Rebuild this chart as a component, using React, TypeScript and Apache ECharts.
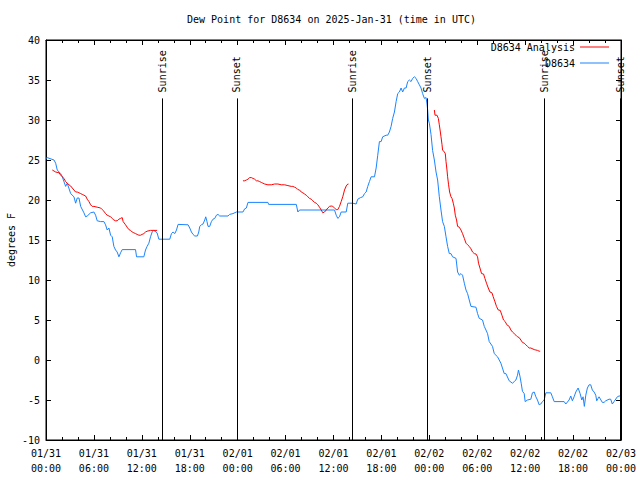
import React, { useEffect, useRef } from "react";
import * as echarts from "echarts";

const TITLE = "Dew Point for D8634 on 2025-Jan-31 (time in UTC)";
const Y_NAME = "degrees F";
const OBS_NAME = "D8634";
const ANALYSIS_NAME = "D8634 Analysis";
const FONT = "DejaVu Sans Mono";

// x axis: hours since 2025-01-31 00:00 UTC
const X_TICK_LABELS = [
  "01/31\n00:00", "01/31\n06:00", "01/31\n12:00", "01/31\n18:00",
  "02/01\n00:00", "02/01\n06:00", "02/01\n12:00", "02/01\n18:00",
  "02/02\n00:00", "02/02\n06:00", "02/02\n12:00", "02/02\n18:00",
  "02/03\n00:00",
];

const SUN_EVENT_HOURS = [14.55, 23.9, 38.4, 47.8, 62.45, 71.9];
const SUN_EVENT_NAMES = ["Sunrise", "Sunset", "Sunrise", "Sunset", "Sunrise", "Sunset"];
const SUN_LINE_TOP = 32.7;

// observed dew point [hour, degF]
const OBS: [number, number][] = [
  [0, 25.2], [0.16, 25.3], [1.0, 25.0], [1.21, 24.6], [1.41, 23.75], [1.84, 23.3], [2.04, 22.9],
  [2.46, 21.7], [2.66, 22.1], [3.09, 20.8], [3.5, 20.4], [3.71, 19.6], [3.91, 20.25], [4.13, 20.25],
  [4.34, 19.2], [4.75, 18.4], [4.96, 17.9], [5.16, 18.0], [5.59, 18.4], [6.0, 18.5], [6.21, 18.1],
  [6.41, 17.4], [6.84, 17.3], [7.25, 17.3], [7.46, 16.9], [7.66, 16.25], [7.88, 16.5], [8.09, 15.6],
  [8.29, 15.4], [8.5, 14.2], [8.71, 13.75], [8.91, 13.5], [9.13, 12.9], [9.34, 13.4], [9.54, 13.8],
  [11.21, 13.8], [11.34, 12.9], [12.25, 12.9], [12.46, 13.75], [12.66, 14.2], [12.88, 14.6],
  [13.09, 15.4], [13.29, 16.0], [13.5, 16.2], [13.91, 15.9], [14.13, 15.1], [15.5, 15.1],
  [15.71, 15.8], [15.91, 16.0], [16.13, 15.8], [16.34, 16.25], [16.54, 16.95], [17.79, 16.9],
  [18.0, 16.5], [18.21, 16.0], [18.41, 15.7], [18.63, 15.5], [18.96, 15.5], [19.13, 16.0],
  [19.25, 16.7], [19.46, 16.9], [19.66, 17.0], [19.88, 17.5], [20.0, 17.9], [20.16, 17.3],
  [20.29, 16.7], [20.5, 16.7], [20.71, 17.3], [20.91, 17.6], [21.13, 17.7], [21.34, 18.1],
  [21.54, 18.2], [21.75, 18.0], [22.79, 18.0], [23.0, 18.2], [23.41, 18.3], [23.84, 18.5],
  [24.66, 18.5], [24.88, 18.9], [25.09, 19.0], [25.29, 19.7], [27.79, 19.7], [27.88, 19.45],
  [31.34, 19.45], [31.54, 18.5], [31.75, 18.75], [36.13, 18.75], [36.34, 18.1], [36.54, 17.7],
  [36.75, 17.9], [36.96, 18.5], [37.59, 18.5], [37.79, 19.6], [38.41, 19.6], [38.84, 19.5],
  [39.04, 20.1], [39.38, 20.3], [39.66, 20.4], [39.88, 20.8], [40.09, 21.0], [40.29, 21.7],
  [40.5, 22.3], [40.71, 22.9], [41.13, 22.9], [41.34, 24.0], [41.54, 25.6], [41.75, 27.3],
  [41.96, 27.3], [42.16, 27.9], [42.59, 28.1], [42.79, 28.1], [43.0, 28.5], [43.21, 29.2],
  [43.41, 30.2], [43.63, 31.0], [43.84, 32.3], [44.04, 33.3], [44.25, 33.5], [44.46, 34.0],
  [44.66, 33.5], [44.88, 34.0], [45.09, 34.0], [45.29, 34.8], [45.5, 35.0], [45.71, 34.8],
  [45.91, 35.2], [46.13, 35.4], [46.34, 35.2], [46.54, 34.8], [46.75, 34.4], [46.96, 34.0],
  [47.16, 33.3], [47.38, 32.7], [47.59, 32.8], [47.71, 32.0], [47.79, 31.25], [47.88, 30.0],
  [48.0, 29.6], [48.21, 28.2], [48.41, 26.2], [48.63, 25.0], [48.84, 23.5], [49.04, 22.5],
  [49.25, 20.4], [49.46, 18.75], [49.66, 17.3], [49.88, 16.7], [50.09, 15.4], [50.29, 14.2],
  [50.5, 13.3], [50.71, 13.3], [50.91, 12.9], [51.34, 12.7], [51.54, 11.0], [51.75, 10.6],
  [51.96, 10.8], [52.16, 10.6], [52.38, 9.6], [52.59, 8.75], [52.79, 8.3], [53.0, 7.5],
  [53.21, 6.7], [53.84, 6.6], [54.04, 5.8], [54.25, 5.2], [54.66, 5.0], [54.88, 4.2],
  [55.09, 3.75], [55.29, 3.3], [55.5, 2.3], [55.91, 1.7], [56.13, 0.8], [56.54, 0.4],
  [56.96, -0.4], [57.38, -1.7], [57.59, -1.7], [58.0, -2.6], [58.41, -2.9], [58.63, -2.7],
  [58.84, -2.5], [59.04, -1.9], [59.16, -1.25], [59.34, -2.0], [59.5, -2.9], [59.66, -3.9],
  [59.88, -4.2], [60.0, -5.2], [60.29, -5.0], [60.71, -4.9], [60.91, -4.1], [61.13, -4.0],
  [61.34, -4.6], [61.54, -5.0], [61.75, -5.6], [61.96, -5.5], [62.16, -5.2], [62.38, -5.0],
  [62.59, -4.1], [63.21, -4.1], [63.41, -4.6], [63.63, -5.2], [64.88, -5.2], [65.09, -5.5],
  [65.5, -5.0], [65.71, -4.5], [65.91, -5.1], [66.13, -4.6], [66.34, -4.0], [66.63, -3.5],
  [66.88, -4.2], [67.09, -5.0], [67.25, -4.6], [67.41, -5.8], [67.59, -4.4], [67.79, -3.5],
  [68.0, -3.1], [68.21, -3.1], [68.41, -3.75], [68.63, -4.0], [68.84, -4.4], [68.96, -5.1],
  [69.13, -4.8], [69.25, -4.6], [69.66, -5.3], [69.88, -5.3], [70.09, -5.1], [70.5, -4.9],
  [70.71, -4.9], [70.91, -5.5], [71.13, -5.2], [71.54, -4.6], [71.75, -4.5], [72.0, -4.5],
];

// analysis dew point, three segments [hour, degF]
const ANALYSIS_1: [number, number][] = [
  [0.79, 23.75], [1.21, 23.5], [1.63, 23.4], [1.84, 23.1], [2.04, 22.9], [2.25, 22.7],
  [2.46, 22.3], [2.66, 22.1], [2.88, 21.9], [3.09, 21.75], [3.29, 21.5], [3.5, 21.25],
  [3.71, 21.0], [3.91, 21.0], [4.13, 20.9], [4.34, 20.8], [4.54, 20.7], [4.75, 20.6],
  [4.96, 20.5], [5.16, 20.1], [5.38, 19.8], [5.59, 19.4], [5.79, 19.2], [6.0, 19.2],
  [6.41, 19.1], [6.84, 19.0], [7.04, 18.8], [7.25, 18.6], [7.46, 18.3], [7.66, 18.1],
  [7.88, 18.0], [8.09, 17.9], [8.29, 17.7], [8.5, 17.5], [8.71, 17.4], [8.91, 17.4],
  [9.13, 17.6], [9.34, 17.7], [9.54, 17.8], [9.66, 17.3], [9.96, 16.9], [10.16, 16.6],
  [10.38, 16.3], [10.59, 16.2], [10.79, 16.0], [11.0, 15.9], [11.21, 15.8], [11.41, 15.7],
  [11.63, 15.6], [11.84, 15.6], [12.04, 15.7], [12.25, 15.8], [12.46, 16.0], [12.66, 16.1],
  [13.09, 16.2], [13.5, 16.2], [13.91, 16.2],
];
const ANALYSIS_2: [number, number][] = [
  [24.66, 22.4], [24.88, 22.4], [25.09, 22.5], [25.29, 22.6], [25.5, 22.8], [25.71, 22.8],
  [25.91, 22.7], [26.13, 22.6], [26.34, 22.4], [26.54, 22.4], [26.75, 22.3], [26.96, 22.2],
  [27.16, 22.1], [27.38, 22.0], [27.79, 21.9], [28.21, 21.9], [28.63, 22.0], [29.04, 22.0],
  [29.46, 21.9], [29.88, 21.9], [30.29, 21.8], [30.71, 21.7], [30.91, 21.7], [31.13, 21.6],
  [31.34, 21.5], [31.54, 21.3], [31.75, 21.25], [31.96, 21.0], [32.16, 20.9], [32.38, 20.75],
  [32.59, 20.6], [32.79, 20.4], [33.0, 20.2], [33.21, 20.1], [33.41, 19.9], [33.63, 19.7],
  [33.84, 19.6], [34.04, 19.4], [34.25, 19.1], [34.46, 18.75], [34.66, 18.4], [34.88, 18.5],
  [35.09, 18.75], [35.29, 19.0], [35.5, 19.2], [35.71, 19.25], [35.91, 19.2], [36.13, 19.0],
  [36.34, 18.8], [36.54, 18.8], [36.75, 19.2], [36.96, 19.8], [37.16, 20.4], [37.38, 21.25],
  [37.59, 21.75], [37.79, 22.0], [37.88, 22.0],
];
const ANALYSIS_3: [number, number][] = [
  [48.63, 31.25], [48.71, 30.6], [48.96, 30.6], [49.13, 30.2], [49.25, 29.4], [49.38, 28.5],
  [49.46, 27.9], [49.59, 26.9], [49.66, 26.25], [49.88, 26.0], [50.0, 25.8], [50.09, 24.8],
  [50.21, 23.75], [50.29, 22.9], [50.41, 21.9], [50.54, 21.0], [50.71, 20.4], [50.84, 20.2],
  [51.0, 19.6], [51.13, 19.0], [51.25, 18.1], [51.41, 17.5], [51.54, 16.7], [51.75, 16.6],
  [51.96, 16.25], [52.16, 15.8], [52.38, 15.2], [52.59, 14.6], [52.79, 14.4], [53.0, 14.2],
  [53.21, 13.9], [53.41, 13.5], [53.63, 13.3], [53.84, 13.25], [54.04, 12.9], [54.16, 12.1],
  [54.34, 11.5], [54.54, 10.8], [54.79, 10.75], [54.96, 10.2], [55.16, 9.6], [55.38, 9.0],
  [55.59, 8.5], [55.84, 8.4], [56.0, 7.9], [56.21, 7.3], [56.41, 6.7], [56.63, 6.25],
  [56.88, 6.2], [57.09, 5.6], [57.29, 5.0], [57.5, 4.8], [57.71, 4.4], [58.0, 4.2],
  [58.21, 3.75], [58.41, 3.5], [58.63, 3.3], [58.84, 3.1], [59.04, 2.9], [59.25, 2.8],
  [59.46, 2.5], [59.66, 2.2], [59.88, 2.1], [60.09, 1.9], [60.29, 1.7], [60.5, 1.5],
  [60.71, 1.5], [61.13, 1.3], [61.34, 1.25], [61.54, 1.2], [61.75, 1.1], [61.88, 1.1],
];

const OBS_COLOR = "#1a84ff";
const ANALYSIS_COLOR = "#ff0000";

export default function App() {
  const ref = useRef<HTMLDivElement>(null);

  useEffect(() => {
    if (!ref.current) return;
    const chart = echarts.init(ref.current, null, { renderer: "svg" });

    const gap = (h: number) => [h, "-"];
    const analysisData: any[] = [
      ...ANALYSIS_1,
      gap(19),
      ...ANALYSIS_2,
      gap(43),
      ...ANALYSIS_3,
    ];

    const textStyle = { fontFamily: FONT, fontSize: 10, color: "#000" };
    const xCommon = {
      type: "value",
      min: 0,
      max: 72,
      interval: 6,
      axisLine: { show: true, onZero: false, lineStyle: { color: "#000", width: 1 } },
      axisTick: { show: true, inside: true, length: 5, lineStyle: { color: "#000" } },
      minorTick: { show: true, splitNumber: 3, length: 3, lineStyle: { color: "#000" } },
      splitLine: { show: false },
      minorSplitLine: { show: false },
    };
    const yCommon = {
      type: "value",
      min: -10,
      max: 40,
      interval: 5,
      axisLine: { show: true, onZero: false, lineStyle: { color: "#000", width: 1 } },
      axisTick: { show: true, inside: true, length: 5, lineStyle: { color: "#000" } },
      splitLine: { show: false },
    };

    const option: any = {
      animation: false,
      backgroundColor: "#fff",
      title: {
        text: TITLE,
        left: 187,
        top: 14,
        padding: 0,
        textStyle: { ...textStyle, fontWeight: "normal" },
      },
      legend: {
        data: [ANALYSIS_NAME, OBS_NAME],
        orient: "vertical",
        right: 31,
        top: 41,
        align: "right",
        icon: "rect",
        itemWidth: 29,
        itemHeight: 1,
        itemGap: 4,
        padding: 0,
        textStyle: { ...textStyle, lineHeight: 12 },
      },
      grid: {
        left: 46,
        right: 19,
        top: 40,
        bottom: 40,
        outerBoundsMode: "none",
        containLabel: false,
        show: true,
        borderColor: "#000",
        borderWidth: 1,
        backgroundColor: "transparent",
      },
      xAxis: [
        {
          ...xCommon,
          position: "bottom",
          axisLabel: {
            ...textStyle,
            margin: 6,
            lineHeight: 15,
            showMinLabel: true,
            showMaxLabel: true,
            formatter: (v: number) => X_TICK_LABELS[Math.round(v / 6)] ?? "",
          },
        },
        {
          ...xCommon,
          position: "top",
          axisLabel: { show: false },
        },
      ],
      yAxis: [
        {
          ...yCommon,
          position: "left",
          name: Y_NAME,
          nameLocation: "middle",
          nameGap: 30,
          nameMoveOverlap: false,
          nameRotate: 90,
          nameTextStyle: { ...textStyle },
          axisLabel: { ...textStyle, margin: 6 },
        },
        {
          ...yCommon,
          position: "right",
          axisLabel: { show: false },
        },
      ],
      series: [
        {
          name: OBS_NAME,
          type: "line",
          data: OBS,
          symbol: "none",
          lineStyle: { color: OBS_COLOR, width: 1 },
          itemStyle: { color: OBS_COLOR },
          z: 2,
          markLine: {
            silent: true,
            symbol: "none",
            label: { show: false },
            lineStyle: { color: "#000", width: 1, type: "solid" },
            data: SUN_EVENT_HOURS.map((h) => [
              { coord: [h, -10] },
              { coord: [h, SUN_LINE_TOP] },
            ]),
          },
        },
        {
          name: ANALYSIS_NAME,
          type: "line",
          data: analysisData,
          symbol: "none",
          connectNulls: false,
          lineStyle: { color: ANALYSIS_COLOR, width: 1 },
          itemStyle: { color: ANALYSIS_COLOR },
          z: 3,
        },
      ],
    };

    chart.setOption(option);

    const labels = SUN_EVENT_HOURS.map((h, i) => {
      const p = chart.convertToPixel({ gridIndex: 0 }, [h, SUN_LINE_TOP]) as number[];
      return {
        type: "text",
        x: p[0],
        y: p[1] - 6,
        rotation: Math.PI / 2,
        z: 10,
        style: {
          text: SUN_EVENT_NAMES[i],
          font: `10px "${FONT}"`,
          fill: "#000",
          align: "left",
          textAlign: "left",
          verticalAlign: "middle",
          textVerticalAlign: "middle",
        },
      };
    });
    chart.setOption({ graphic: labels });

    return () => chart.dispose();
  }, []);

  return <div ref={ref} style={{ width: 640, height: 480, position: "absolute", left: 0, top: 0 }} />;
}
